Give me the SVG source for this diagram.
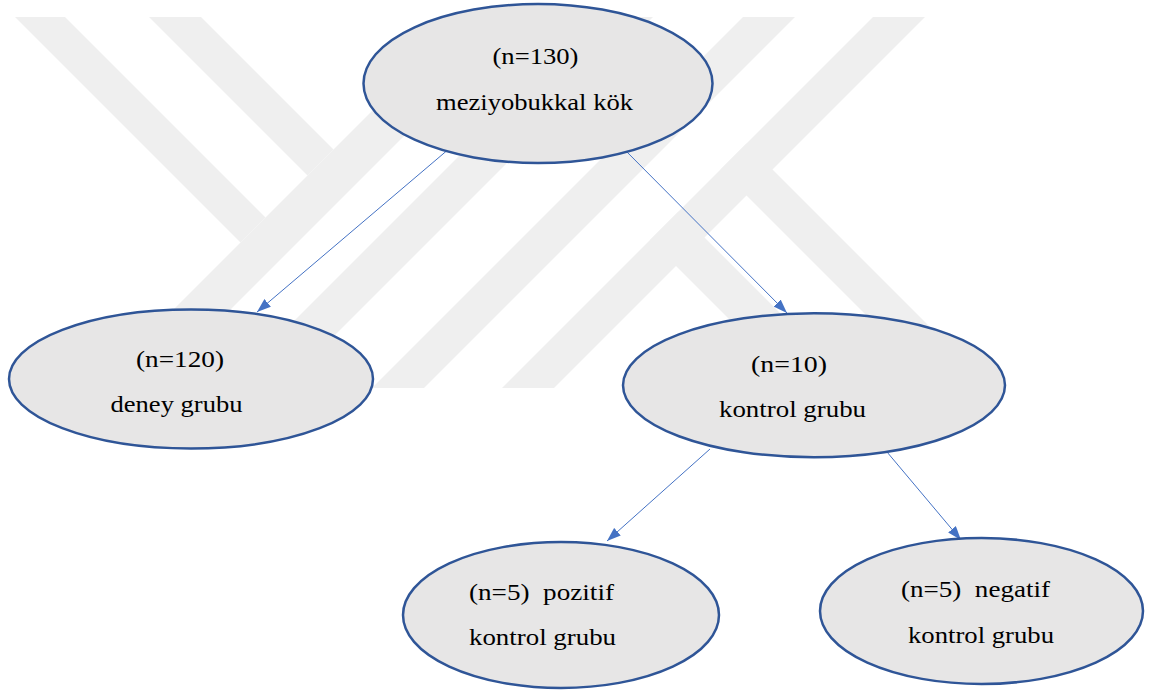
<svg xmlns="http://www.w3.org/2000/svg" width="1152" height="690" viewBox="0 0 1152 690">
  <style>
    .wm { fill: #EFEFEF; stroke: none; }
    .node ellipse { fill: #E7E6E6; stroke: #2F5597; stroke-width: 2.5; }
    .node text { font-family: "Liberation Serif", "Times New Roman", serif; font-size: 24px; fill: #000000; text-anchor: middle; }
    .conn line { stroke: #4472C4; stroke-width: 1; fill: none; }
  </style>
  <defs>
    <marker id="arrow" markerWidth="14" markerHeight="10" refX="14" refY="5" orient="auto" markerUnits="userSpaceOnUse">
      <path d="M0,0 L14,5 L0,10 Z" fill="#4472C4"/>
    </marker>
    <clipPath id="wmclip">
      <rect x="0" y="17" width="1152" height="371"/>
    </clipPath>
  </defs>
  <rect x="0" y="0" width="1152" height="690" fill="#FFFFFF"/>

  <g id="watermark" clip-path="url(#wmclip)">
    <polygon class="wm" points="15,17 65,17 265.5,217.5 240.5,242.5"/>
    <polygon class="wm" points="149,17 201,17 333.5,149.5 307.5,175.5"/>
    <polygon class="wm" points="466,17 523,17 152,388 95,388"/>
    <polygon class="wm" points="598,17 653,17 282,388 227,388"/>
    <polygon class="wm" points="743,17 795,17 424,388 372,388"/>
    <polygon class="wm" points="873,17 925,17 554,388 502,388"/>
    <polygon class="wm" points="746.5,143.5 991,388 939,388 720.5,169.5"/>
    <polygon class="wm" points="678.5,211.5 855,388 798,388 650,240"/>
  </g>

  <g id="connectors" class="conn">
    <line x1="450" y1="148" x2="257" y2="312" marker-end="url(#arrow)"/>
    <line x1="623" y1="148" x2="787" y2="313" marker-end="url(#arrow)"/>
    <line x1="710" y1="449" x2="607" y2="541" marker-end="url(#arrow)"/>
    <line x1="887" y1="452" x2="961" y2="540" marker-end="url(#arrow)"/>
  </g>

  <g id="node-root" class="node">
    <ellipse cx="538" cy="83.5" rx="174.5" ry="79.5"/>
    <text x="535.5" y="64" textLength="86" lengthAdjust="spacingAndGlyphs">(n=130)</text>
    <text x="534.5" y="110" textLength="197" lengthAdjust="spacingAndGlyphs">meziyobukkal kök</text>
  </g>

  <g id="node-deney" class="node">
    <ellipse cx="191" cy="379" rx="182" ry="69.5"/>
    <text x="180" y="367" textLength="88" lengthAdjust="spacingAndGlyphs">(n=120)</text>
    <text x="176.5" y="412" textLength="132" lengthAdjust="spacingAndGlyphs">deney grubu</text>
  </g>

  <g id="node-kontrol" class="node">
    <ellipse cx="814" cy="385.3" rx="191" ry="72"/>
    <text x="789" y="372" textLength="76" lengthAdjust="spacingAndGlyphs">(n=10)</text>
    <text x="792.5" y="417" textLength="147" lengthAdjust="spacingAndGlyphs">kontrol grubu</text>
  </g>

  <g id="node-pozitif" class="node">
    <ellipse cx="561" cy="615" rx="158" ry="73"/>
    <text x="541.5" y="600" xml:space="preserve" textLength="145" lengthAdjust="spacingAndGlyphs">(n=5)  pozitif</text>
    <text x="542.5" y="645" textLength="147" lengthAdjust="spacingAndGlyphs">kontrol grubu</text>
  </g>

  <g id="node-negatif" class="node">
    <ellipse cx="981.5" cy="611" rx="161.5" ry="73"/>
    <text x="975.5" y="597" xml:space="preserve" textLength="149" lengthAdjust="spacingAndGlyphs">(n=5)  negatif</text>
    <text x="981" y="643" textLength="146" lengthAdjust="spacingAndGlyphs">kontrol grubu</text>
  </g>
</svg>
